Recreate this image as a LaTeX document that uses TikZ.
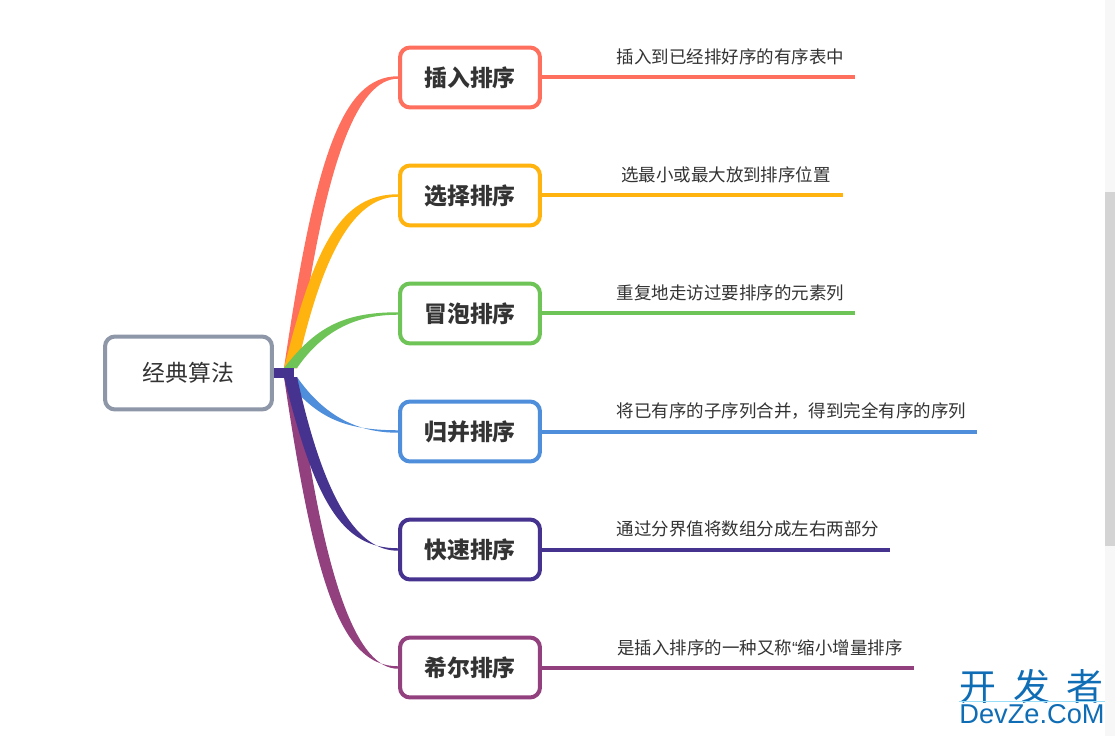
\documentclass[tikz,border=0pt]{standalone}
\usepackage{fontspec}
\usepackage{tikz}
\usetikzlibrary{calc}
\setmainfont{Noto Sans CJK SC}
\newfontfamily\latinfont{Liberation Sans}
\definecolor{coral}{HTML}{FF6F5E}
\definecolor{amber}{HTML}{FFB30F}
\definecolor{leaf}{HTML}{6EC456}
\definecolor{azure}{HTML}{4F8EDB}
\definecolor{indigo}{HTML}{46328F}
\definecolor{plum}{HTML}{93407F}
\definecolor{slate}{HTML}{8E97A8}
\definecolor{ink}{HTML}{333333}
\definecolor{mark}{HTML}{0F6DB5}
\tikzset{
  rootbox/.style={draw=slate,fill=white,line width=0.08cm,rounded corners=0.2cm,minimum width=3.34cm,minimum height=1.46cm,text=ink,font=\fontsize{13}{15}\selectfont},
  algbox/.style={draw=#1,fill=white,line width=0.08cm,rounded corners=0.2cm,minimum width=2.8cm,minimum height=1.2cm,text=ink,font=\fontsize{13}{15}\selectfont\bfseries},
  tailline/.style={draw=#1,line width=0.08cm},
  taillabel/.style={text=ink,font=\fontsize{9.95}{12}\selectfont,inner sep=0pt}
}
% tapered branch: hub side a, hub side b, box, colour
\newcommand{\branch}[4]{%
  \fill[#4] let \p1=(#1),\p2=(#2),\p3=(#3.west) in
    (\p1) .. controls ({\x1+0.27*(\x3-\x1)},{\y1+0.72*(\y3-\y1)}) and ({\x1+0.55*(\x3-\x1)-3pt},{\y3+0.7pt}) .. (\x3,\y3+0.7pt)
    -- (\x3,\y3-0.7pt) .. controls ({\x2+0.55*(\x3-\x2)+3pt},{\y3-0.7pt}) and ({\x2+0.27*(\x3-\x2)},{\y2+0.72*(\y3-\y2)}) .. (\p2) -- cycle;}
\begin{document}
\begin{tikzpicture}[x=0.02cm,y=-0.02cm]
\useasboundingbox (0,0) rectangle (1115,736);
\fill[white] (0,0) rectangle (1115,736);
\fill[black!3] (1105,0) rectangle (1115,736);
\fill[black!17] (1105,192) rectangle (1115,546);

\node[rootbox] (root) at (188.5,373) {经典算法};
\node[algbox=coral] (insert) at (470,77.5) {插入排序};
\node[algbox=amber] (select) at (470,195.5) {选择排序};
\node[algbox=leaf] (bubble) at (470,313.5) {冒泡排序};
\node[algbox=azure] (merge) at (470,431.5) {归并排序};
\node[algbox=indigo] (quick) at (470,549.5) {快速排序};
\node[algbox=plum] (shell) at (470,667.5) {希尔排序};

\coordinate (upa) at (284,368);
\coordinate (upb) at (297,368);
\coordinate (loa) at (284,377);
\coordinate (lob) at (297,377);

\branch{upa}{upb}{insert}{coral}
\branch{upa}{upb}{select}{amber}
\branch{upa}{upb}{bubble}{leaf}
\branch{loa}{lob}{merge}{azure}
\branch{loa}{lob}{shell}{plum}
\branch{loa}{lob}{quick}{indigo}

\coordinate (hubend) at (294,373);
\draw[indigo,line width=0.22cm] (root.east) -- (hubend);

\coordinate (insertend) at (855,77.5);
\coordinate (selectend) at (843,195.5);
\coordinate (bubbleend) at (855,313.5);
\coordinate (mergeend) at (977,431.5);
\coordinate (quickend) at (890,549.5);
\coordinate (shellend) at (914,667.5);
\draw[tailline=coral] (insert.east) -- (insertend);
\draw[tailline=amber] (select.east) -- (selectend);
\draw[tailline=leaf] (bubble.east) -- (bubbleend);
\draw[tailline=azure] (merge.east) -- (mergeend);
\draw[tailline=indigo] (quick.east) -- (quickend);
\draw[tailline=plum] (shell.east) -- (shellend);

\node[taillabel] (insertnote) at (730.5,57) {插入到已经排好序的有序表中};
\node[taillabel] (selectnote) at (726,175) {选最小或最大放到排序位置};
\node[taillabel] (bubblenote) at (730.5,293) {重复地走访过要排序的元素列};
\node[taillabel] (mergenote) at (791.5,411) {将已有序的子序列合并，得到完全有序的序列};
\node[taillabel] (quicknote) at (748,529) {通过分界值将数组分成左右两部分};
\node[taillabel] (shellnote) at (760,648) {是插入排序的一种又称{\latinfont “}缩小增量排序};

\node[text=mark,font=\fontsize{21}{24}\selectfont,inner sep=0pt] (markcn) at (1031.5,686) {开\hspace{0.46em}发\hspace{0.46em}者};
\coordinate (ruleleft) at (959,701);
\coordinate (ruleright) at (1105,701);
\draw[cyan!40,line width=0.01cm] (ruleleft) -- (ruleright);
\node[text=mark,font=\latinfont\fontsize{15.5}{18}\selectfont,inner sep=0pt] (markla) at (1032,714) {DevZe.CoM};
\end{tikzpicture}
\end{document}
